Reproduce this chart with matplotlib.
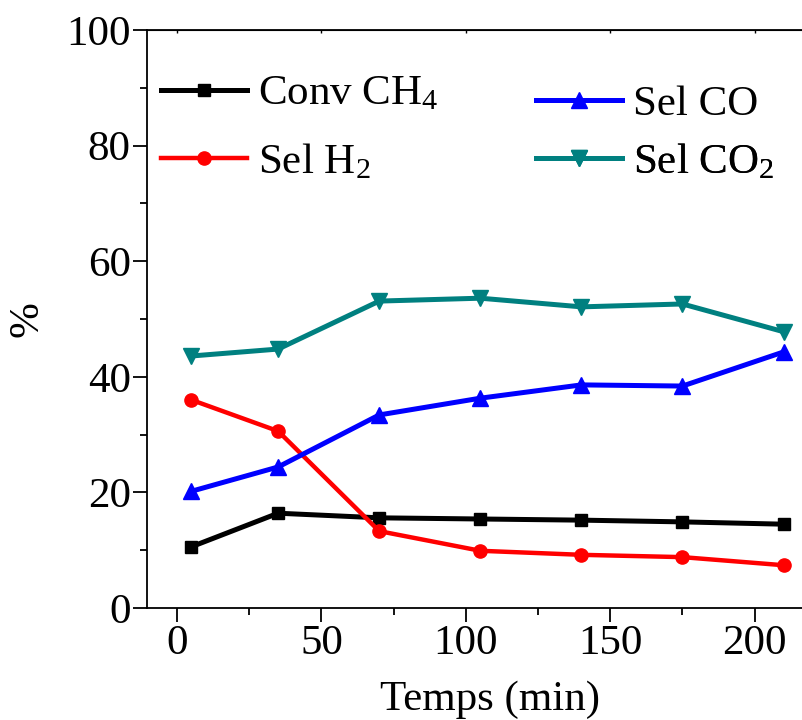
import matplotlib
matplotlib.use("Agg")
import matplotlib.pyplot as plt
from matplotlib.ticker import MultipleLocator

plt.rcParams['font.family'] = ['Liberation Serif', 'DejaVu Serif']
plt.rcParams['mathtext.fontset'] = 'custom'
plt.rcParams['mathtext.rm'] = 'Liberation Serif'
plt.rcParams['mathtext.it'] = 'Liberation Serif:italic'

# Time on stream (min)
temps = [5, 35, 70, 105, 140, 175, 210]

# Conversion and selectivities (%)
conv_ch4 = [10.6, 16.4, 15.6, 15.4, 15.2, 14.9, 14.5]
sel_h2 = [36.0, 30.6, 13.3, 9.9, 9.2, 8.8, 7.4]
sel_co = [20.2, 24.4, 33.4, 36.3, 38.6, 38.4, 44.3]
sel_co2 = [43.6, 44.8, 53.1, 53.6, 52.1, 52.6, 47.8]

W, H = 802, 720
x0, x1, y_top, y_bot = 147.3, 811, 30, 608

fig = plt.figure(figsize=(W / 100, H / 100), dpi=100)
ax = fig.add_axes([x0 / W, (H - y_bot) / H, (x1 - x0) / W, (y_bot - y_top) / H])

lw = 3.6
h1, = ax.plot(temps, conv_ch4, color='black', marker='s', ms=9, lw=lw, label='Conv CH$_4$')
h2, = ax.plot(temps, sel_h2, color='#ff0000', marker='o', ms=9.5, lw=3.2, label='Sel H$_2$')
h3, = ax.plot(temps, sel_co, color='#0000ff', marker='^', ms=11, lw=lw, label='Sel CO')
h4, = ax.plot(temps, sel_co2, color='#008080', marker='v', ms=11, lw=lw, label='Sel CO$_2$')

ax.set_xlim(-10.3, 219.5)
ax.set_ylim(0, 100)

ax.xaxis.set_major_locator(MultipleLocator(50))
ax.xaxis.set_minor_locator(MultipleLocator(25))
ax.yaxis.set_major_locator(MultipleLocator(20))
ax.yaxis.set_minor_locator(MultipleLocator(10))

ax.tick_params(axis='both', which='major', direction='out', length=10, width=1.3,
               labelsize=31, pad=2)
ax.tick_params(axis='both', which='minor', direction='out', length=5, width=1.3)
for s in ax.spines.values():
    s.set_linewidth(1.3)

# small inward ticks along the top frame
top = ax.secondary_xaxis('top')
top.xaxis.set_major_locator(MultipleLocator(50))
top.tick_params(direction='in', length=2, width=1.0, labelsize=0, labeltop=False)

ax.set_xlabel('Temps (min)', fontsize=31)
ax.xaxis.set_label_coords((490 - x0) / (x1 - x0), -0.125)
ax.set_ylabel('%', fontsize=31, labelpad=14)

# one legend per entry, each centred on its own row
leg_kw = dict(frameon=False, fontsize=31, handlelength=2.0, handletextpad=0.25,
              borderpad=0, borderaxespad=0, loc='center left')
entries = [(h1, 161, 94), (h2, 161, 162), (h3, 536, 104), (h4, 536, 162)]
for h, px, py in entries:
    leg = ax.legend(handles=[h], bbox_to_anchor=((px - x0) / (x1 - x0),
                                                 (y_bot - py) / (y_bot - y_top)),
                    **leg_kw)
    ax.add_artist(leg)

fig.savefig('out.png', dpi=100)
